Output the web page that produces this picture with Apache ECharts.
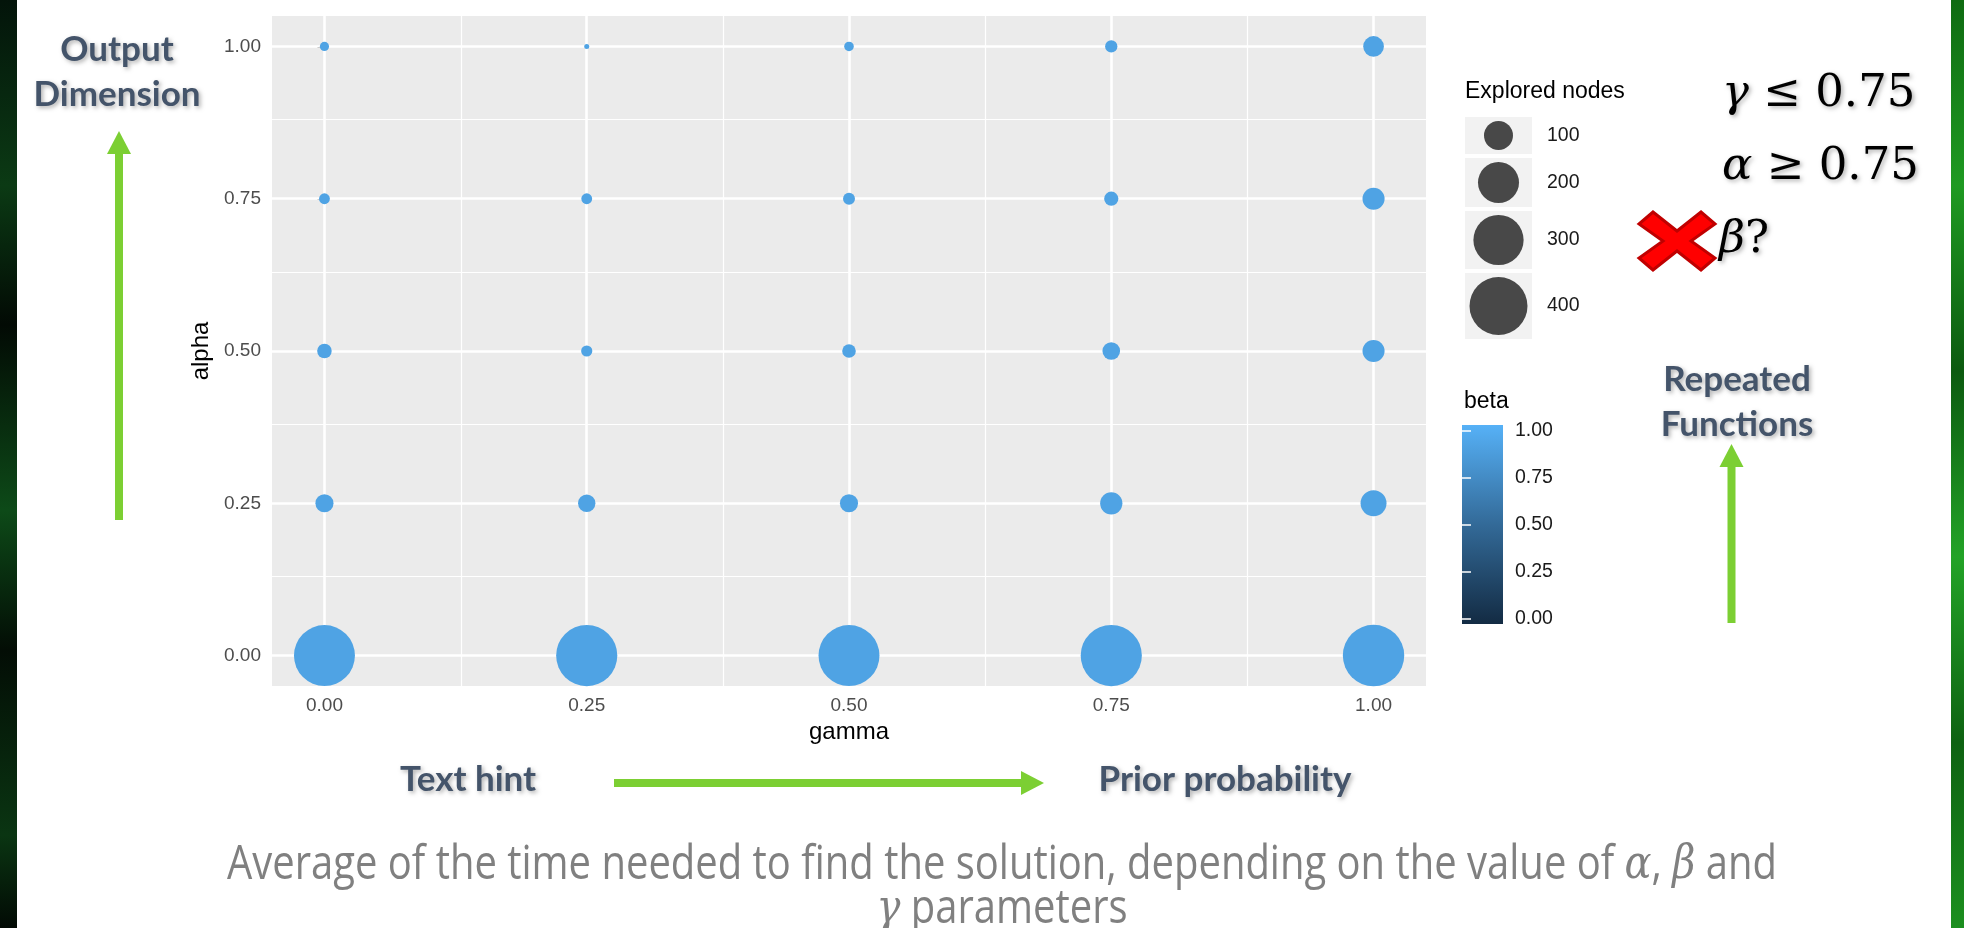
<!DOCTYPE html>
<html>
<head>
<meta charset="utf-8">
<title>Explored nodes by alpha and gamma</title>
<script src="https://cdn.jsdelivr.net/npm/echarts@6/dist/echarts.min.js"></script>
<style>
  html, body { margin: 0; padding: 0; background: #fff; }
  #chart { width: 1964px; height: 928px; }
</style>
</head>
<body>
<div id="chart"></div>
<script>
// axis breaks
const gammaTicks = [0, 0.25, 0.5, 0.75, 1];
const alphaTicks = [0, 0.25, 0.5, 0.75, 1];
const minorBreaks = [0.125, 0.375, 0.625, 0.875];

// grid of parameters
const gammaValues = [0, 0.25, 0.5, 0.75, 1];
const alphaValues = [0, 0.25, 0.5, 0.75, 1];

// explored nodes: one row per alpha, one value per gamma
const nodesAlpha000 = [442, 445, 442, 445, 448];
const nodesAlpha025 = [39, 36, 39, 59, 80];
const nodesAlpha050 = [25, 15, 22, 37, 58];
const nodesAlpha075 = [14, 14, 17, 24, 58];
const nodesAlpha100 = [10, 3, 11, 18, 51];

// mean beta of each point (drives the colour)
const betaAlpha000 = [0.9, 0.9, 0.9, 0.9, 0.9];
const betaAlpha025 = [0.9, 0.9, 0.9, 0.9, 0.9];
const betaAlpha050 = [0.9, 0.9, 0.9, 0.9, 0.9];
const betaAlpha075 = [0.9, 0.9, 0.9, 0.9, 0.9];
const betaAlpha100 = [0.9, 0.9, 0.9, 0.9, 0.9];

// legends
const sizeBreaks = [100, 200, 300, 400];
const betaTicks = [0, 0.25, 0.5, 0.75, 1];
const betaColors = ['#132B43', '#336A98', '#56B1F7'];

const nodeRows = [nodesAlpha000, nodesAlpha025, nodesAlpha050, nodesAlpha075, nodesAlpha100];
const betaRows = [betaAlpha000, betaAlpha025, betaAlpha050, betaAlpha075, betaAlpha100];

// diameter in px, proportional to sqrt(nodes) like ggplot's area scale
function nodeSize (v) {
  return 2.9 * Math.sqrt(v);
}

const points = [];
alphaValues.forEach((a, i) => {
  gammaValues.forEach((g, j) => {
    points.push([g, a, nodeRows[i][j], betaRows[i][j]]);
  });
});

const chart = echarts.init(document.getElementById('chart'));

const SANS = '"Liberation Sans", Arial, sans-serif';
const LATO = 'Lato, "Open Sans", sans-serif';
const SERIF = '"DejaVu Serif", serif';
const SLATE = '#44546A';
const GREEN = '#7CCF33';

const fmt2 = v => v.toFixed(2);

// ---- graphic helpers ----
const shadow = {
  textShadowColor: 'rgba(0,0,0,0.3)',
  textShadowBlur: 4,
  textShadowOffsetX: 2,
  textShadowOffsetY: 2
};

function slateText (text, x, y) {
  return {
    type: 'text',
    x: x,
    y: y,
    style: Object.assign({
      text: text,
      fill: SLATE,
      font: 'bold 35px ' + LATO,
      align: 'center',
      verticalAlign: 'middle',
      lineHeight: 45
    }, shadow)
  };
}

function arrow (x1, y1, x2, y2) {
  // straight green arrow from (x1,y1) to tip (x2,y2)
  const dx = x2 - x1, dy = y2 - y1;
  const len = Math.sqrt(dx * dx + dy * dy);
  const ang = Math.atan2(dy, dx);
  const head = 23, half = 12, shaft = 4;
  return {
    type: 'group',
    x: x1,
    y: y1,
    rotation: -ang,
    children: [
      { type: 'rect', shape: { x: 0, y: -shaft, width: len - head + 1, height: shaft * 2 }, style: { fill: GREEN } },
      { type: 'polygon', shape: { points: [[len - head, -half], [len, 0], [len - head, half]] }, style: { fill: GREEN } }
    ]
  };
}

// caption text, squeezed to the slide's condensed look
const measureCtx = document.createElement('canvas').getContext('2d');
function textWidth (str, font) {
  measureCtx.font = font;
  return measureCtx.measureText(str).width;
}
const capSize = 47;
const capFont = capSize + 'px "Open Sans", sans-serif';
const capGreek = 'italic ' + capSize + 'px ' + SERIF;
const cap1a = 'Average of the time needed to find the solution, depending on the value of ';
const cap1w = textWidth(cap1a, capFont) + textWidth('α', capGreek) + textWidth(', ', capFont) +
  textWidth('β', capGreek) + textWidth(' and', capFont);
const capScale = 1550 / cap1w;

const capRich = {
  t: { fontFamily: '"Open Sans", sans-serif', fontSize: capSize, fill: '#808080' },
  g: { fontFamily: SERIF, fontStyle: 'italic', fontSize: capSize, fill: '#808080' }
};

// size legend keys stacked below the title
const sizeLegend = [];
let keyTop = 117;
sizeBreaks.forEach(v => {
  const d = nodeSize(v);
  const h = Math.round(d + 8);
  const cy = keyTop + h / 2;
  sizeLegend.push(
    { type: 'rect', shape: { x: 1465, y: keyTop, width: 67, height: h }, style: { fill: '#F2F2F2' } },
    { type: 'circle', shape: { cx: 1498.5, cy: cy, r: d / 2 }, style: { fill: '#484848' } },
    { type: 'text', x: 1547, y: cy, style: { text: String(v), font: '19.5px ' + SANS, fill: '#1a1a1a', verticalAlign: 'middle' } }
  );
  keyTop += h + 4;
});

const mathRich = {
  i: { fontFamily: SERIF, fontStyle: 'italic', fontSize: 45, fill: '#000' },
  n: { fontFamily: SERIF, fontSize: 45, fill: '#000' }
};

const graphics = [
  // decorative slide edges
  {
    type: 'rect', shape: { x: 0, y: 0, width: 17, height: 928 },
    style: { fill: new echarts.graphic.LinearGradient(0, 0, 0, 1, [
      { offset: 0, color: '#03140a' }, { offset: 0.2, color: '#0b3a14' }, { offset: 0.35, color: '#020a04' },
      { offset: 0.55, color: '#0d4a18' }, { offset: 0.7, color: '#030d05' }, { offset: 0.9, color: '#0a3512' },
      { offset: 1, color: '#020a04' }
    ]) }
  },
  {
    type: 'rect', shape: { x: 1951, y: 0, width: 13, height: 928 },
    style: { fill: new echarts.graphic.LinearGradient(0, 0, 0, 1, [
      { offset: 0, color: '#0f6b12' }, { offset: 0.2, color: '#1f9a22' }, { offset: 0.4, color: '#0c5a10' },
      { offset: 0.6, color: '#23a327' }, { offset: 0.8, color: '#0e6212' }, { offset: 1, color: '#1c8f1f' }
    ]) }
  },

  // annotations
  slateText('Output\nDimension', 117, 72),
  arrow(119, 520, 119, 131),
  slateText('Repeated\nFunctions', 1737, 402),
  arrow(1731.5, 623, 1731.5, 444),
  slateText('Text hint', 468, 780),
  arrow(614, 783, 1044, 783),
  slateText('Prior probability', 1225, 780),

  // conditions
  {
    type: 'text', x: 1722, y: 94,
    style: Object.assign({ text: '{i|γ}{n| ≤ 0.75}', rich: mathRich, verticalAlign: 'middle' }, shadow)
  },
  {
    type: 'text', x: 1722, y: 167,
    style: Object.assign({ text: '{i|α}{n| ≥ 0.75}', rich: mathRich, verticalAlign: 'middle' }, shadow)
  },
  {
    type: 'text', x: 1719, y: 240,
    style: Object.assign({ text: '{i|β}{n|?}', rich: mathRich, verticalAlign: 'middle' }, shadow)
  },
  {
    type: 'polygon', x: 1677, y: 241,
    shape: { points: [
      [-38, -17], [-24, -29], [0, -10], [24, -29], [38, -17], [14, 0],
      [38, 17], [24, 29], [0, 10], [-24, 29], [-38, 17], [-14, 0]
    ] },
    style: { fill: '#FF0000', stroke: '#C00000', lineWidth: 3, lineJoin: 'miter' }
  },

  // legends
  { type: 'text', x: 1465, y: 92, style: { text: 'Explored nodes', font: '23px ' + SANS, fill: '#000', verticalAlign: 'middle' } },
  { type: 'text', x: 1464, y: 402, style: { text: 'beta', font: '23px ' + SANS, fill: '#000', verticalAlign: 'middle' } },
  ...sizeLegend,

  // caption
  {
    type: 'text', x: 1002, y: 866, scaleX: capScale,
    style: {
      text: '{t|' + cap1a + '}{g|α}{t|, }{g|β}{t| and}',
      rich: capRich, align: 'center', verticalAlign: 'middle'
    }
  },
  {
    type: 'text', x: 1002, y: 910, scaleX: capScale,
    style: { text: '{g|γ}{t| parameters}', rich: capRich, align: 'center', verticalAlign: 'middle' }
  }
];

const gridLine = (key, vals, width) => vals.map(v => ({
  [key]: v,
  lineStyle: { color: '#fff', width: width, type: 'solid' }
}));

const option = {
  backgroundColor: '#fff',
  animation: false,
  textStyle: { fontFamily: SANS },
  grid: [
    { left: 272, top: 16, width: 1154, height: 670, show: true, backgroundColor: '#EBEBEB', borderWidth: 0 },
    {
      left: 1462, top: 425, width: 41, height: 199, show: true, borderWidth: 0,
      backgroundColor: new echarts.graphic.LinearGradient(0, 1, 0, 0, betaColors.map((c, i) => ({
        offset: i / (betaColors.length - 1), color: c
      })))
    }
  ],
  xAxis: [
    {
      type: 'value', gridIndex: 0, min: -0.05, max: 1.05,
      name: 'gamma', nameLocation: 'middle', nameGap: 34,
      nameTextStyle: { color: '#000', fontSize: 24 },
      axisLine: { show: false },
      axisTick: { show: true, customValues: gammaTicks, length: 7, lineStyle: { color: '#333', width: 2 } },
      axisLabel: { customValues: gammaTicks, formatter: fmt2, color: '#4D4D4D', fontSize: 19, margin: 10 },
      splitLine: { show: false }
    },
    { type: 'value', gridIndex: 1, min: 0, max: 1, show: false }
  ],
  yAxis: [
    {
      type: 'value', gridIndex: 0, min: -0.05, max: 1.05,
      name: 'alpha', nameLocation: 'middle', nameGap: 56, nameRotate: 90,
      nameTextStyle: { color: '#000', fontSize: 24 },
      axisLine: { show: false },
      axisTick: { show: true, customValues: alphaTicks, length: 7, lineStyle: { color: '#333', width: 2 } },
      axisLabel: { customValues: alphaTicks, formatter: fmt2, color: '#4D4D4D', fontSize: 19, margin: 11 },
      splitLine: { show: false }
    },
    {
      type: 'value', gridIndex: 1, min: -0.03, max: 1.03, position: 'right',
      axisLine: { show: false },
      axisTick: { show: true, inside: true, customValues: betaTicks, length: 9, lineStyle: { color: '#fff', width: 1.5 } },
      axisLabel: { customValues: betaTicks, formatter: fmt2, color: '#1a1a1a', fontSize: 19.5, margin: 12 },
      splitLine: { show: false }
    },
    {
      type: 'value', gridIndex: 1, min: -0.03, max: 1.03, position: 'left',
      axisLine: { show: false },
      axisTick: { show: true, inside: true, customValues: betaTicks, length: 9, lineStyle: { color: '#fff', width: 1.5 } },
      axisLabel: { show: false },
      splitLine: { show: false }
    }
  ],
  visualMap: {
    type: 'continuous',
    show: false,
    seriesIndex: 1,
    dimension: 3,
    min: 0,
    max: 1,
    inRange: { color: betaColors }
  },
  series: [
    {
      // panel grid lines (major + minor)
      type: 'scatter',
      xAxisIndex: 0,
      yAxisIndex: 0,
      data: [],
      silent: true,
      markLine: {
        silent: true,
        z: 1,
        symbol: 'none',
        label: { show: false },
        animation: false,
        data: [].concat(
          gridLine('xAxis', minorBreaks, 1.2),
          gridLine('yAxis', minorBreaks, 1.2),
          gridLine('xAxis', gammaTicks, 2.6),
          gridLine('yAxis', alphaTicks, 2.6)
        )
      }
    },
    {
      type: 'scatter',
      xAxisIndex: 0,
      yAxisIndex: 0,
      z: 3,
      clip: true,
      data: points,
      symbolSize: v => nodeSize(v[2]),
      itemStyle: { opacity: 1, borderWidth: 0 }
    }
  ],
  graphic: graphics
};

chart.setOption(option);
</script>
</body>
</html>
